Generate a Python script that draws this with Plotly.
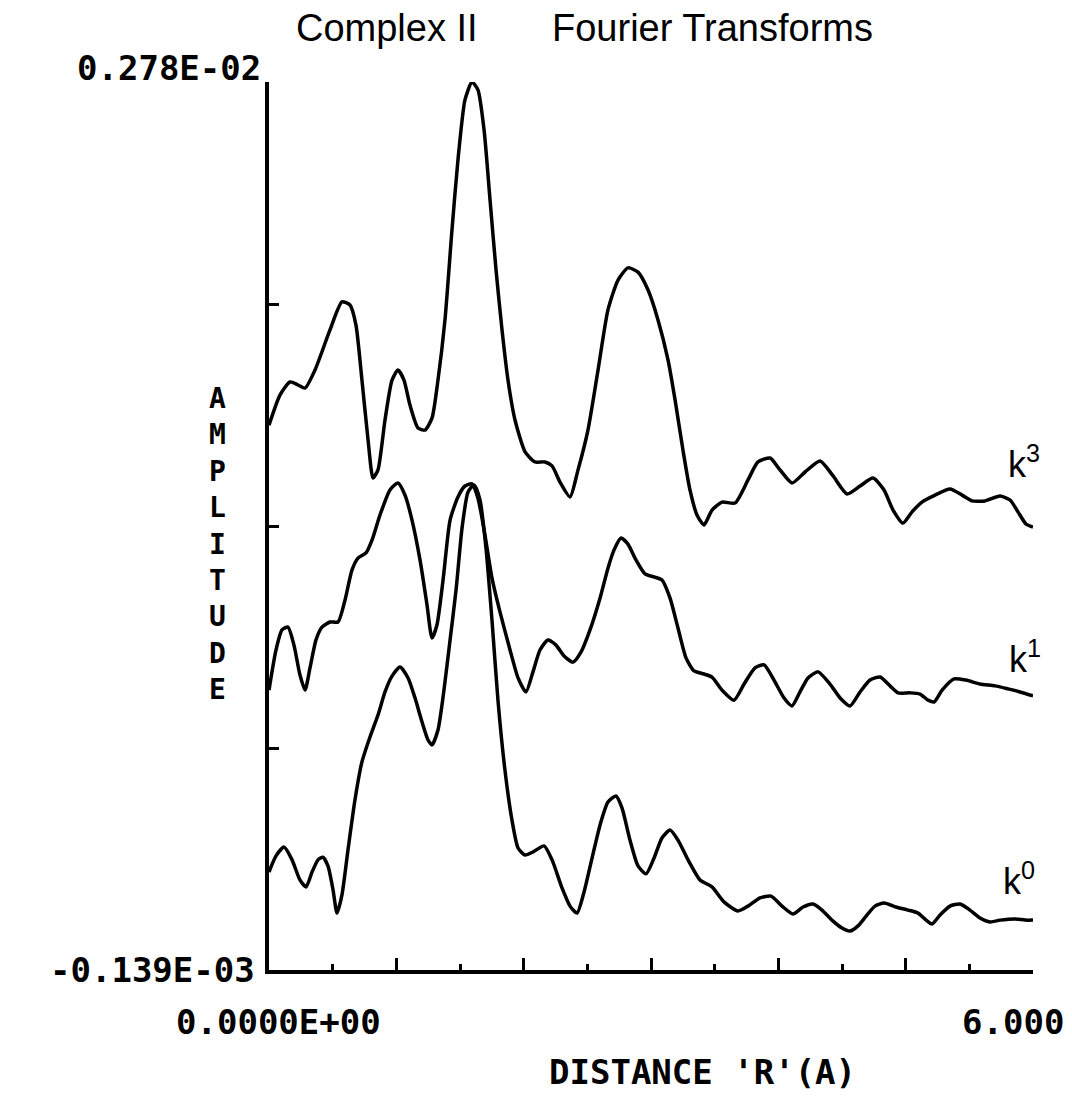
import plotly.graph_objects as go

# Fourier transform magnitudes (amplitude in units of 1e-3) versus distance R (Angstrom)
r_k3 = [0.000, 0.086, 0.165, 0.228, 0.283, 0.361, 0.479, 0.573, 0.636, 0.683,
        0.730, 0.778, 0.817, 0.856, 0.911, 0.966, 1.013, 1.060, 1.107, 1.170,
        1.225, 1.280, 1.327, 1.382, 1.437, 1.484, 1.539, 1.594, 1.641, 1.689,
        1.736, 1.783, 1.830, 1.877, 1.932, 2.011, 2.089, 2.168, 2.223, 2.285,
        2.364, 2.427, 2.505, 2.584, 2.662, 2.741, 2.819, 2.898, 2.977, 3.055,
        3.134, 3.189, 3.251, 3.306, 3.361, 3.416, 3.479, 3.558, 3.660, 3.762,
        3.840, 3.935, 4.013, 4.108, 4.210, 4.328, 4.430, 4.540, 4.642, 4.744,
        4.830, 4.901, 4.979, 5.050, 5.128, 5.231, 5.348, 5.443, 5.521, 5.623,
        5.741, 5.820, 5.882, 5.945, 6.000]
amp_k3 = [1.652, 1.751, 1.794, 1.784, 1.774, 1.833, 1.965, 2.057, 2.047, 1.981,
          1.800, 1.603, 1.478, 1.505, 1.669, 1.800, 1.833, 1.800, 1.718, 1.643,
          1.636, 1.675, 1.800, 1.998, 2.294, 2.524, 2.721, 2.780, 2.754, 2.622,
          2.392, 2.162, 1.965, 1.800, 1.669, 1.564, 1.531, 1.531, 1.518, 1.465,
          1.416, 1.505, 1.636, 1.833, 2.031, 2.129, 2.169, 2.155, 2.096, 1.998,
          1.866, 1.735, 1.570, 1.439, 1.357, 1.324, 1.373, 1.399, 1.396, 1.472,
          1.531, 1.544, 1.505, 1.462, 1.498, 1.534, 1.485, 1.426, 1.452, 1.478,
          1.439, 1.373, 1.330, 1.367, 1.399, 1.422, 1.442, 1.422, 1.403, 1.403,
          1.419, 1.406, 1.367, 1.327, 1.317]

r_k1 = [0.000, 0.055, 0.102, 0.149, 0.196, 0.243, 0.283, 0.322, 0.369, 0.416,
        0.479, 0.542, 0.597, 0.652, 0.699, 0.762, 0.809, 0.872, 0.950, 1.013,
        1.068, 1.123, 1.186, 1.241, 1.280, 1.319, 1.367, 1.422, 1.484, 1.539,
        1.594, 1.641, 1.696, 1.751, 1.814, 1.893, 1.956, 2.018, 2.073, 2.128,
        2.191, 2.254, 2.317, 2.387, 2.450, 2.521, 2.600, 2.662, 2.710, 2.765,
        2.819, 2.882, 2.953, 3.024, 3.086, 3.149, 3.212, 3.275, 3.338, 3.416,
        3.479, 3.558, 3.652, 3.731, 3.817, 3.888, 3.966, 4.045, 4.107, 4.170,
        4.233, 4.312, 4.406, 4.485, 4.563, 4.642, 4.720, 4.799, 4.877, 4.940,
        5.034, 5.113, 5.176, 5.223, 5.286, 5.380, 5.474, 5.584, 5.702, 5.804,
        5.898, 6.000]
amp_k1 = [0.781, 0.913, 0.979, 0.988, 0.929, 0.831, 0.781, 0.854, 0.946, 0.988,
          1.005, 1.005, 1.077, 1.176, 1.215, 1.232, 1.274, 1.357, 1.439, 1.462,
          1.422, 1.340, 1.209, 1.061, 0.952, 0.995, 1.143, 1.340, 1.416, 1.452,
          1.459, 1.412, 1.291, 1.150, 1.038, 0.913, 0.821, 0.775, 0.841, 0.913,
          0.946, 0.929, 0.893, 0.873, 0.906, 0.979, 1.084, 1.182, 1.242, 1.281,
          1.261, 1.209, 1.163, 1.153, 1.143, 1.084, 0.985, 0.887, 0.844, 0.834,
          0.824, 0.781, 0.748, 0.801, 0.854, 0.864, 0.814, 0.755, 0.729, 0.775,
          0.821, 0.841, 0.801, 0.755, 0.729, 0.775, 0.814, 0.824, 0.795, 0.772,
          0.772, 0.768, 0.748, 0.742, 0.781, 0.818, 0.814, 0.801, 0.795, 0.785,
          0.775, 0.762]

r_k0 = [0.000, 0.055, 0.118, 0.181, 0.243, 0.291, 0.338, 0.385, 0.424, 0.463,
        0.503, 0.534, 0.573, 0.620, 0.675, 0.730, 0.793, 0.856, 0.911, 0.966,
        1.029, 1.092, 1.147, 1.202, 1.249, 1.280, 1.327, 1.374, 1.422, 1.469,
        1.516, 1.563, 1.610, 1.657, 1.704, 1.751, 1.798, 1.853, 1.908, 1.956,
        2.011, 2.073, 2.160, 2.223, 2.301, 2.364, 2.419, 2.474, 2.537, 2.600,
        2.662, 2.725, 2.772, 2.835, 2.898, 2.961, 3.024, 3.086, 3.149, 3.212,
        3.291, 3.385, 3.479, 3.573, 3.683, 3.762, 3.856, 3.943, 4.029, 4.115,
        4.194, 4.272, 4.343, 4.421, 4.500, 4.563, 4.626, 4.689, 4.759, 4.830,
        4.924, 5.018, 5.097, 5.160, 5.207, 5.270, 5.348, 5.427, 5.505, 5.584,
        5.663, 5.741, 5.859, 5.937, 6.000]
amp_k0 = [0.183, 0.236, 0.265, 0.223, 0.157, 0.134, 0.183, 0.223, 0.232, 0.203,
          0.124, 0.048, 0.108, 0.255, 0.420, 0.545, 0.627, 0.699, 0.775, 0.827,
          0.857, 0.821, 0.755, 0.676, 0.617, 0.601, 0.650, 0.781, 0.946, 1.110,
          1.314, 1.432, 1.455, 1.406, 1.248, 1.012, 0.748, 0.518, 0.354, 0.262,
          0.239, 0.249, 0.269, 0.223, 0.131, 0.071, 0.048, 0.117, 0.229, 0.338,
          0.413, 0.433, 0.394, 0.288, 0.203, 0.177, 0.229, 0.295, 0.321, 0.288,
          0.223, 0.157, 0.134, 0.085, 0.055, 0.071, 0.098, 0.104, 0.071, 0.045,
          0.068, 0.078, 0.058, 0.025, -0.001, -0.011, 0.006, 0.038, 0.071, 0.081,
          0.068, 0.058, 0.048, 0.025, 0.012, 0.042, 0.071, 0.078, 0.058, 0.032,
          0.019, 0.025, 0.029, 0.025, 0.025]

y_min, y_max = -0.139, 2.78
y_ticks = [y_min + i * (y_max - y_min) / 4 for i in (1, 2, 3)]
x_major = [1, 2, 3, 4, 5, 6]
x_minor = [0.5, 1.5, 2.5, 3.5, 4.5, 5.5]

curve_labels = [("k<sup>3</sup>", 5.93, 1.53), ("k<sup>1</sup>", 5.94, 0.89), ("k<sup>0</sup>", 5.89, 0.16)]

plot_font = "DejaVu Sans Mono"
text_font = "Liberation Sans"

fig = go.Figure()
for rr, aa in ((r_k3, amp_k3), (r_k1, amp_k1), (r_k0, amp_k0)):
    fig.add_trace(go.Scatter(x=rr, y=aa, mode="lines",
                             line=dict(color="black", width=3.5, shape="spline", smoothing=0.6),
                             showlegend=False, hoverinfo="skip"))

fig.update_xaxes(range=[0, 6], showgrid=False, zeroline=False, showline=True,
                 linecolor="black", linewidth=3.5, ticks="inside", tickvals=x_major,
                 ticklen=12, tickwidth=3, tickcolor="black", showticklabels=False,
                 minor=dict(tickvals=x_minor, ticks="inside", ticklen=6, tickwidth=3,
                            tickcolor="black", showgrid=False))
fig.update_yaxes(range=[y_min, y_max], showgrid=False, zeroline=False, showline=True,
                 linecolor="black", linewidth=3.5, ticks="inside", tickvals=y_ticks,
                 ticklen=10, tickwidth=3, tickcolor="black", showticklabels=False)

ann = []
tick_font = dict(family=plot_font, size=34, color="black", weight="bold")
ann.append(dict(text="0.278E-02", x=0, xref="paper", xanchor="right", xshift=-6,
                y=y_max, yref="y", yanchor="middle", yshift=14, showarrow=False, font=tick_font))
ann.append(dict(text="-0.139E-03", x=0, xref="paper", xanchor="right", xshift=-12,
                y=y_min, yref="y", yanchor="middle", showarrow=False, font=tick_font))
ann.append(dict(text="0.0000E+00", x=0, xref="x", xanchor="center", xshift=9,
                y=0, yref="paper", yanchor="top", yshift=-30, showarrow=False, font=tick_font))
ann.append(dict(text="6.000", x=6, xref="x", xanchor="right", xshift=33,
                y=0, yref="paper", yanchor="top", yshift=-30, showarrow=False, font=tick_font))
ann.append(dict(text="DISTANCE 'R'(A)", x=0.5, xref="paper", xanchor="center", xshift=51,
                y=0, yref="paper", yanchor="top", yshift=-80, showarrow=False,
                font=dict(family=plot_font, size=34, color="black", weight="bold")))
ann.append(dict(text="<br>".join("AMPLITUDE"), x=0, xref="paper", xanchor="center", xshift=-52,
                y=0.48, yref="paper", yanchor="middle", showarrow=False,
                font=dict(family=plot_font, size=28, color="black", weight="bold")))
ann.append(dict(text="Complex II", x=0.154, xref="paper", xanchor="center",
                y=1, yref="paper", yanchor="middle", yshift=54, showarrow=False,
                font=dict(family=text_font, size=38, color="black")))
ann.append(dict(text="Fourier Transforms", x=0.58, xref="paper", xanchor="center",
                y=1, yref="paper", yanchor="middle", yshift=54, showarrow=False,
                font=dict(family=text_font, size=38, color="black")))
for txt, xx, yy in curve_labels:
    ann.append(dict(text=txt, x=xx, xref="x", y=yy, yref="y", xanchor="center",
                    yanchor="middle", showarrow=False,
                    font=dict(family=text_font, size=36, color="black")))

fig.update_layout(width=1072, height=1096, autosize=False,
                  margin=dict(l=269, r=39, t=82, b=126),
                  paper_bgcolor="white", plot_bgcolor="white",
                  annotations=ann)

fig.write_html("out.html")
